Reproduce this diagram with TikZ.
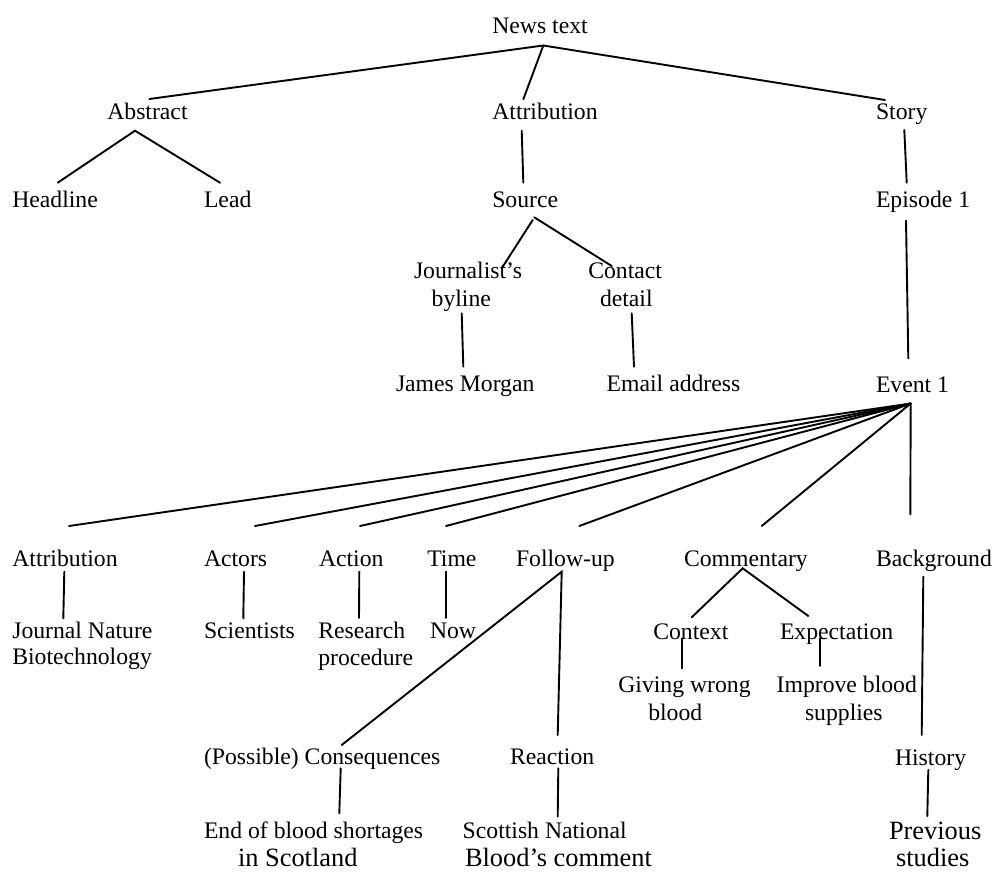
\documentclass[tikz,border=0pt]{standalone}
\usepackage{fontspec}
\setmainfont{Liberation Serif}
\newcommand\fsA{\fontsize{23.7pt}{28pt}\selectfont}
\newcommand\fsB{\fontsize{26.4pt}{30pt}\selectfont}
\tikzset{
  lbl/.style={anchor=base west, inner sep=0pt, outer sep=0pt, font=\fsA},
  lblbig/.style={anchor=base west, inner sep=0pt, outer sep=0pt, font=\fsB},
  edge/.style={line width=1.9pt, line cap=round}
}
\begin{document}
\begin{tikzpicture}[x=1pt,y=-1pt]
\useasboundingbox (0,0) rectangle (995,872);
% ---- labels ----
\node[lbl] (news) at (492.3,33.3) {News text};
\node[lbl] (abs) at (107.3,120) {Abstract};
\node[lbl] (attr) at (492.3,120) {Attribution};
\node[lbl] (story) at (876,120) {Story};
\node[lbl] (head) at (12.3,207) {Headline};
\node[lbl] (lead) at (204,207) {Lead};
\node[lbl] (src) at (492.3,207) {Source};
\node[lbl] (epi) at (876,207) {Episode 1};
\node[lbl] (jour) at (414,278.3) {Journalist’s};
\node[lbl] (jourb) at (431.7,306) {byline};
\node[lbl] (cont) at (588.3,278.3) {Contact};
\node[lbl] (contb) at (600,306) {detail};
\node[lbl] (james) at (396,391.7) {James Morgan};
\node[lbl] (email) at (606.7,391.7) {Email address};
\node[lbl] (event) at (876,392.5) {Event 1};
\node[lbl] (attrb) at (12.3,566.7) {Attribution};
\node[lbl] (actors) at (204,566.7) {Actors};
\node[lbl] (action) at (319,566.7) {Action};
\node[lbl] (time) at (427.3,566.7) {Time};
\node[lbl] (follow) at (516,566.7) {Follow-up};
\node[lbl] (comm) at (684,566.7) {Commentary};
\node[lbl] (back) at (876,566.7) {Background};
\node[lbl] (journal) at (12.3,638.3) {Journal Nature};
\node[lbl] (journalb) at (12.3,664.5) {Biotechnology};
\node[lbl] (sci) at (204,638.3) {Scientists};
\node[lbl] (res) at (318.3,638.3) {Research};
\node[lbl] (resb) at (318.3,665) {procedure};
\node[lbl] (now) at (430,638.3) {Now};
\node[lbl] (ctx) at (653.3,639.3) {Context};
\node[lbl] (exp) at (780,639.3) {Expectation};
\node[lbl] (giv) at (618.3,692.7) {Giving wrong};
\node[lbl] (givb) at (648.3,720) {blood};
\node[lbl] (imp) at (776.7,692.7) {Improve blood};
\node[lbl] (impb) at (805,720) {supplies};
\node[lbl] (cons) at (204,764) {(Possible) Consequences};
\node[lbl] (react) at (510,764) {Reaction};
\node[lbl] (hist) at (895,765) {History};
\node[lbl] (endb) at (204,838.3) {End of blood shortages};
\node[lblbig] (endbb) at (238,866.7) {in Scotland};
\node[lbl] (scot) at (462.7,838.3) {Scottish National};
\node[lblbig] (scotb) at (465,866.7) {Blood’s comment};
\node[lblbig] (prev) at (889,839.3) {Previous};
\node[lblbig] (prevb) at (896,866.7) {studies};
% ---- connector end points ----
\coordinate (pNews) at (543.3,45.5);
\coordinate (pAbsT) at (149.3,99);
\coordinate (pAttrT) at (523.3,99.3);
\coordinate (pStoryT) at (885,100);
\coordinate (pAttrB) at (521.7,130.7);
\coordinate (pSrcT) at (523.3,182.7);
\coordinate (pStoryB) at (904.3,130);
\coordinate (pEpiT) at (906.7,182.7);
\coordinate (pAbsB) at (135,130.7);
\coordinate (pHeadT) at (57.7,182.7);
\coordinate (pLeadT) at (220,182.7);
\coordinate (pSrcB1) at (532.7,220);
\coordinate (pSrcB2) at (534.3,217.3);
\coordinate (pJourT) at (501.7,268.3);
\coordinate (pContT) at (611.7,266);
\coordinate (pJourB) at (461.7,313.3);
\coordinate (pJamesT) at (463.3,366.7);
\coordinate (pContB) at (631.7,313.3);
\coordinate (pEmailT) at (634,366.7);
\coordinate (pEpiB) at (906,220.7);
\coordinate (pEventT) at (908.3,358.3);
\coordinate (pEvent) at (910.7,403.5);
\coordinate (pAttrbT) at (69,526);
\coordinate (pActorsT) at (255,526);
\coordinate (pActionT) at (360,526);
\coordinate (pTimeT) at (446,526);
\coordinate (pFollowT) at (579.3,526);
\coordinate (pCommT) at (761.7,526);
\coordinate (pBackT) at (910.3,514.3);
\coordinate (pAttrbB) at (64.3,571.7);
\coordinate (pJournalT) at (63.3,618.3);
\coordinate (pActorsB) at (244,571.7);
\coordinate (pSciT) at (243.3,618.3);
\coordinate (pActionB) at (359.3,571.7);
\coordinate (pResT) at (359,618);
\coordinate (pTimeB) at (446,571.7);
\coordinate (pNowT) at (446,618);
\coordinate (pFollowB) at (561.7,571.7);
\coordinate (pConsT) at (341.7,745);
\coordinate (pReactT) at (557.7,735);
\coordinate (pCommB) at (742.7,568.3);
\coordinate (pCtxT) at (691.7,617.3);
\coordinate (pExpT) at (808.3,616);
\coordinate (pBackB) at (923.3,576.7);
\coordinate (pHistT) at (921.7,735);
\coordinate (pCtxB) at (682.3,638.3);
\coordinate (pGivT) at (682.3,668.3);
\coordinate (pExpB) at (820,638.3);
\coordinate (pImpT) at (820,666);
\coordinate (pConsB) at (340.7,768.3);
\coordinate (pEndT) at (339.3,813.3);
\coordinate (pReactB) at (558.3,768.3);
\coordinate (pScotT) at (557.7,816.7);
\coordinate (pHistB) at (928.3,770);
\coordinate (pPrevT) at (927.3,816);
% ---- connectors ----
\draw[edge] (pAbsT) -- (pNews) -- (pStoryT);
\draw[edge] (pNews) -- (pAttrT);
\draw[edge] (pAttrB) -- (pSrcT);
\draw[edge] (pStoryB) -- (pEpiT);
\draw[edge] (pHeadT) -- (pAbsB) -- (pLeadT);
\draw[edge] (pSrcB1) -- (pJourT);
\draw[edge] (pSrcB2) -- (pContT);
\draw[edge] (pJourB) -- (pJamesT);
\draw[edge] (pContB) -- (pEmailT);
\draw[edge] (pEpiB) -- (pEventT);
\foreach \t in {pAttrbT,pActorsT,pActionT,pTimeT,pFollowT,pCommT,pBackT}
  \draw[edge] (pEvent) -- (\t);
\draw[edge] (pAttrbB) -- (pJournalT);
\draw[edge] (pActorsB) -- (pSciT);
\draw[edge] (pActionB) -- (pResT);
\draw[edge] (pTimeB) -- (pNowT);
\draw[edge] (pConsT) -- (pFollowB) -- (pReactT);
\draw[edge] (pCtxT) -- (pCommB) -- (pExpT);
\draw[edge] (pBackB) -- (pHistT);
\draw[edge] (pCtxB) -- (pGivT);
\draw[edge] (pExpB) -- (pImpT);
\draw[edge] (pConsB) -- (pEndT);
\draw[edge] (pReactB) -- (pScotT);
\draw[edge] (pHistB) -- (pPrevT);
\end{tikzpicture}
\end{document}
